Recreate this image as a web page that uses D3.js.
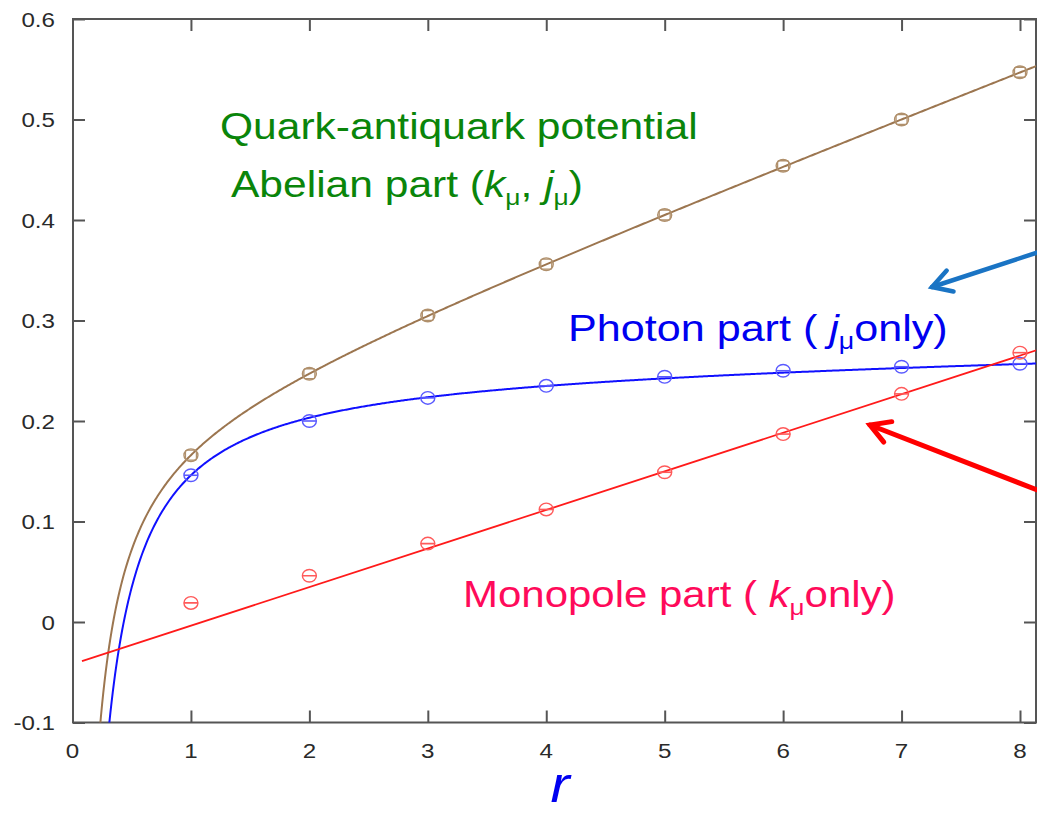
<!DOCTYPE html>
<html>
<head>
<meta charset="utf-8">
<script src="https://cdn.jsdelivr.net/npm/d3@7"></script>
<style>
  html, body { margin: 0; padding: 0; background: #fff; }
  svg { display: block; }
  text { font-family: "Liberation Sans", Arial, sans-serif; }
</style>
</head>
<body>
<svg id="chart" width="1037" height="813"></svg>
<script>
// Separation r (lattice units)
const rValues = [1, 2, 3, 4, 5, 6, 7, 8];
// Potential measurements
const abelianV  = [0.166, 0.247, 0.305, 0.356, 0.405, 0.454, 0.500, 0.547];
const photonV   = [0.146, 0.200, 0.223, 0.235, 0.244, 0.250, 0.254, 0.257];
const monopoleV = [0.019, 0.046, 0.078, 0.112, 0.149, 0.187, 0.227, 0.268];
// Fit coefficients for V(r) = -a/r + sigma*r + c
const abelianFit  = [0.0712, 0.0455, 0.1917];
const photonFit   = [0.1105, 0.0020, 0.2545];
// Linear fit V(r) = sigma*r + c for the monopole part
const monopoleFit = [0.0384, -0.0421];
// Axis ticks
const xTicks = [0, 1, 2, 3, 4, 5, 6, 7, 8];
const yTicks = [-0.1, 0, 0.1, 0.2, 0.3, 0.4, 0.5, 0.6];

const svg = d3.select("#chart");
const pLeft = 73, pRight = 1036, pTop = 19, pBottom = 722.5;
const x = d3.scaleLinear().domain([0, 8]).range([72.5, 1020]);
const y = d3.scaleLinear().domain([-0.1, 0.6]).range([pBottom, pTop]);
const SX = 1.15; // horizontal stretch of lettering

const frameColor = "#555";

// clip for the curves
svg.append("defs").append("clipPath").attr("id", "plotClip")
  .append("rect").attr("x", pLeft).attr("y", pTop)
  .attr("width", pRight - pLeft).attr("height", pBottom - pTop);

// Axes with inward ticks on all four sides
const axB = d3.axisBottom(x).tickValues(xTicks).tickSize(-12).tickFormat("");
const axT = d3.axisTop(x).tickValues(xTicks).tickSize(-12).tickFormat("");
const axL = d3.axisLeft(y).tickValues(yTicks).tickSize(-12).tickFormat("");
const axR = d3.axisRight(y).tickValues(yTicks).tickSize(-12).tickFormat("");
function styleAxis(g) {
  g.select(".domain").remove();
  g.selectAll(".tick line").attr("stroke", frameColor).attr("stroke-width", 2);
}
svg.append("g").attr("transform", `translate(0,${pBottom})`).call(axB).call(styleAxis);
svg.append("g").attr("transform", `translate(0,${pTop})`).call(axT).call(styleAxis);
svg.append("g").attr("transform", `translate(${pLeft},0)`).call(axL).call(styleAxis);
svg.append("g").attr("transform", `translate(${pRight},0)`).call(axR).call(styleAxis);

// frame
svg.append("rect").attr("x", pLeft).attr("y", pTop)
  .attr("width", pRight - pLeft).attr("height", pBottom - pTop)
  .attr("fill", "none").attr("stroke", frameColor).attr("stroke-width", 2);

// tick labels
const tickFont = 21;
svg.append("g").selectAll("text").data(yTicks).join("text")
  .attr("transform", d => `translate(55,${y(d) + 7.5}) scale(${SX},1)`)
  .attr("text-anchor", "end").attr("font-size", tickFont).attr("fill", "#2a2a2a")
  .text(d => String(+d.toFixed(1)));
svg.append("g").selectAll("text").data(xTicks).join("text")
  .attr("transform", d => `translate(${x(d)},758) scale(${SX},1)`)
  .attr("text-anchor", "middle").attr("font-size", tickFont).attr("fill", "#2a2a2a")
  .text(d => d);

// fitted curves
const plot = svg.append("g").attr("clip-path", "url(#plotClip)");
const coulombLinear = p => r => -p[0] / r + p[1] * r + p[2];
const linear = p => r => p[0] * r + p[1];
const rFine = d3.range(0.15, 8.4, 0.01);
const line = d3.line().x(d => x(d[0])).y(d => y(d[1]));

plot.append("path")
  .datum(rFine.map(r => [r, coulombLinear(abelianFit)(r)]))
  .attr("d", line).attr("fill", "none").attr("stroke", "#9c7650").attr("stroke-width", 2);
plot.append("path")
  .datum(rFine.map(r => [r, coulombLinear(photonFit)(r)]))
  .attr("d", line).attr("fill", "none").attr("stroke", "#1010ff").attr("stroke-width", 2);
plot.append("path")
  .datum([0.08, 8.4].map(r => [r, linear(monopoleFit)(r)]))
  .attr("d", line).attr("fill", "none").attr("stroke", "#ff1a1a").attr("stroke-width", 1.8);

// data markers
function markers(values, color, withSquare) {
  const g = plot.append("g");
  const pts = g.selectAll("g").data(rValues.map((r, i) => [r, values[i]])).join("g")
    .attr("transform", d => `translate(${x(d[0])},${y(d[1])})`);
  pts.append("ellipse").attr("rx", 7).attr("ry", 6.3)
    .attr("fill", "none").attr("stroke", color).attr("stroke-width", 1.4);
  if (withSquare) {
    pts.append("rect").attr("x", -5.5).attr("y", -5).attr("width", 11).attr("height", 10)
      .attr("rx", 1.5)
      .attr("fill", "none").attr("stroke", color).attr("stroke-width", 1.3);
  } else {
    pts.append("line").attr("x1", -7).attr("x2", 7)
      .attr("stroke", color).attr("stroke-width", 1.6);
  }
}
markers(abelianV, "#b0906c", true);
markers(photonV, "#5a5aff", false);
markers(monopoleV, "#ff5a5a", false);

// annotations
function label(xp, yp, color, parts, size) {
  const t = svg.append("text")
    .attr("transform", `translate(${xp},${yp}) scale(${SX},1)`)
    .attr("font-size", size).attr("fill", color);
  let shift = 0;
  parts.forEach(p => {
    const ts = t.append("tspan").text(p.t);
    if (p.i) ts.attr("font-style", "italic");
    if (p.sub) {
      ts.attr("font-size", size * 0.62).attr("dy", 8 - shift);
      shift = 8;
    } else if (shift) {
      ts.attr("dy", -shift);
      shift = 0;
    }
  });
  return t;
}
const F = 37;
label(220, 139, "#0a850a", [{t: "Quark-antiquark potential"}], F);
label(231, 197, "#0a850a", [
  {t: "Abelian part ("}, {t: "k", i: true}, {t: "\u03bc", sub: true},
  {t: ", "}, {t: "j", i: true}, {t: "\u03bc", sub: true}, {t: ")"}
], F);
label(568, 341, "#0000f0", [
  {t: "Photon part ( "}, {t: "j", i: true}, {t: "\u03bc", sub: true}, {t: "only)"}
], 37.5);
label(463, 607, "#ff0a5a", [
  {t: "Monopole part ( "}, {t: "k", i: true}, {t: "\u03bc", sub: true}, {t: "only)"}
], 36.5);

// axis title
svg.append("text")
  .attr("transform", `translate(560,802) scale(${SX},1)`)
  .attr("text-anchor", "middle").attr("font-size", 50).attr("font-style", "italic")
  .attr("fill", "#0000f0").text("r");

// pointer arrows
function arrow(x1, y1, x2, y2, color, w) {
  const ang = Math.atan2(y2 - y1, x2 - x1);
  const L = 22, a = Math.PI / 6;
  svg.append("line").attr("x1", x1).attr("y1", y1).attr("x2", x2).attr("y2", y2)
    .attr("stroke", color).attr("stroke-width", w).attr("stroke-linecap", "round");
  const p1 = [x2 - L * Math.cos(ang - a), y2 - L * Math.sin(ang - a)];
  const p2 = [x2 - L * Math.cos(ang + a), y2 - L * Math.sin(ang + a)];
  svg.append("path").attr("d", `M${p1}L${x2},${y2}L${p2}`)
    .attr("fill", "none").attr("stroke", color).attr("stroke-width", w)
    .attr("stroke-linecap", "round").attr("stroke-linejoin", "miter");
}
arrow(1045, 250, 932, 287, "#1a74c4", 4.5);
arrow(1045, 493, 870, 425, "#ff0000", 5);
</script>
</body>
</html>
